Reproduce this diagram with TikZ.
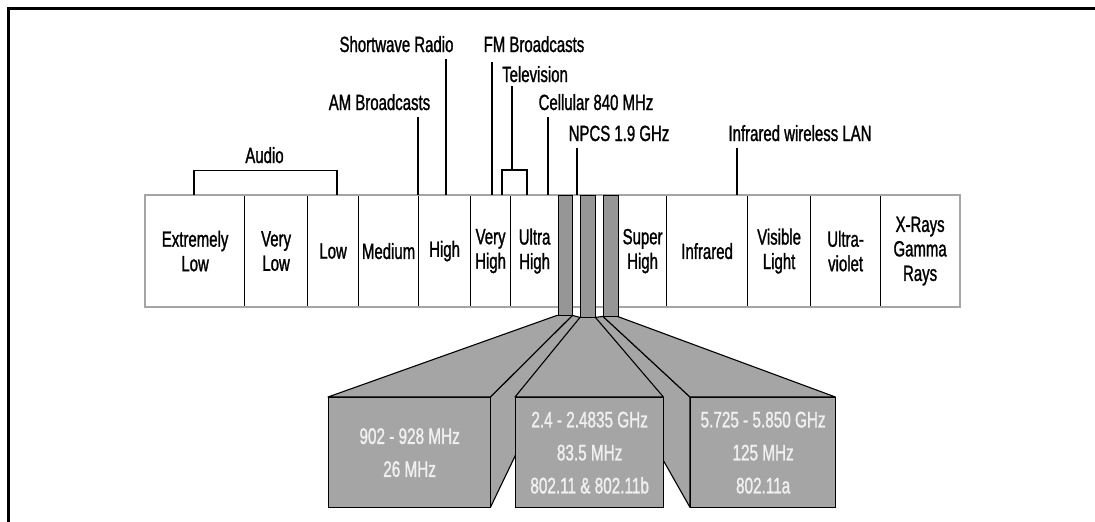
\documentclass[tikz,border=0pt]{standalone}
\usepackage{fontspec}
\setmainfont[FakeStretch=0.68,FakeBold=1.2]{Liberation Sans}
\definecolor{wedgegray}{RGB}{165,165,165}
\definecolor{bargray}{RGB}{150,150,150}
\definecolor{bordergray}{RGB}{165,165,165}
\definecolor{boxtext}{RGB}{240,240,240}
\newcommand{\dfont}{\fontsize{22}{24.5}\selectfont}
\newcommand{\bfontsz}{\fontsize{22.5}{33}\selectfont}
\begin{document}
\begin{tikzpicture}[x=1pt,y=-1pt,
  lbl/.style={font=\dfont, inner sep=0pt, anchor=base},
  lead/.style={line width=1.1pt, black},
  cellbox/.style={draw=black, line width=1.2pt, inner sep=0pt, minimum height=111pt,
    font=\dfont, align=center, anchor=north west},
  ghost/.style={inner sep=0pt, anchor=north west},
  slotbar/.style={draw=black, fill=bargray, line width=1.2pt, inner sep=0pt, anchor=north west},
  face/.style={draw=black, fill=wedgegray, line width=1.1pt, line join=round},
  frontbox/.style={draw=black, fill=wedgegray, line width=1.3pt, inner sep=0pt,
    minimum height=110pt, font=\bfontsz, text=boxtext, align=center, anchor=north west}]
\useasboundingbox (0,0) rectangle (1095,522);
% outer frame (open at right and bottom)
\draw[line width=3pt, black] (8,530) -- (8,8) -- (1105,8);

% spectrum cells
\node[cellbox, minimum width=99pt] (elf) at (145,195) {Extremely\\Low};
\node[cellbox, minimum width=63pt] (vlf) at (244,195) {Very\\Low};
\node[cellbox, minimum width=51pt] (lf) at (307,195) {Low};
\node[cellbox, minimum width=60pt] (mf) at (358,195) {Medium};
\node[cellbox, minimum width=52pt] (hf) at (418,195) {High};
\node[cellbox, minimum width=40pt] (vhf) at (470,195) {Very\\High};
\node[cellbox, minimum width=48pt] (uhf) at (510,195) {Ultra\\High};
\node[cellbox, minimum width=48pt] (shf) at (618,195) {Super\\High};
\node[cellbox, minimum width=81pt] (ir) at (666,195) {Infrared};
\node[cellbox, minimum width=63pt] (vis) at (747,195) {Visible\\Light};
\node[cellbox, minimum width=70pt] (uv) at (810,195) {Ultra-\\violet};
\node[cellbox, minimum width=79pt] (xr) at (880,195) {X-Rays\\Gamma\\Rays};
% grey outer border of the spectrum strip
\draw[bordergray, line width=2pt] (elf.north west) rectangle (xr.south east);

% geometry helpers (not drawn)
\coordinate (s1) at (542,400);
\coordinate (s3) at (629,400);
\node[ghost, minimum width=162pt, minimum height=110pt] (b1) at (328,397) {};
\node[ghost, minimum width=148pt, minimum height=110pt] (b2) at (515,397) {};
\node[ghost, minimum width=145pt, minimum height=110pt] (b3) at (690,397) {};
\node[ghost, minimum width=14pt, minimum height=120pt] (bar1) at (558,195) {};
\node[ghost, minimum width=15pt, minimum height=122pt] (bar2) at (580,195) {};
\node[ghost, minimum width=15pt, minimum height=121pt] (bar3) at (603,195) {};

% side faces
\draw[face] (b1.north east) -- (bar1.south east) -- (bar2.south west) -- (s1) -- (b1.south east) -- cycle;
\draw[face] (b3.north west) -- (bar3.south west) -- (bar2.south east) -- (s3) -- (b3.south west) -- cycle;
% box 2
\draw[face] (b2.north west) -- (bar2.south west) -- (bar2.south east) -- (b2.north east) -- cycle;
\node[frontbox, minimum width=148pt] (b2f) at (b2.north west) {2.4 - 2.4835 GHz\\83.5 MHz\\802.11 \& 802.11b};
% box 1
\draw[face] (b1.north west) -- ([xshift=-1pt]bar1.south west) -- (bar1.south east) -- (b1.north east) -- cycle;
\node[frontbox, minimum width=162pt] (b1f) at (b1.north west) {902 - 928 MHz\\26 MHz};
% box 3
\draw[face] (b3.north west) -- (bar3.south west) -- ([xshift=-1pt]bar3.south east) -- (b3.north east) -- cycle;
\node[frontbox, minimum width=145pt] (b3f) at (b3.north west) {5.725 - 5.850 GHz\\125 MHz\\802.11a};

% bars on top
\node[slotbar, minimum width=14pt, minimum height=120pt] (bar1f) at (bar1.north west) {};
\node[slotbar, minimum width=15pt, minimum height=122pt] (bar2f) at (bar2.north west) {};
\node[slotbar, minimum width=15pt, minimum height=121pt] (bar3f) at (bar3.north west) {};

% labels
\node[lbl] (sw) at (396.5,52) {Shortwave Radio};
\node[lbl] (fm) at (534,52) {FM Broadcasts};
\node[lbl] (tv) at (535,82) {Television};
\node[lbl] (am) at (379.5,110) {AM Broadcasts};
\node[lbl] (cel) at (596,110) {Cellular 840 MHz};
\node[lbl] (npcs) at (619,141) {NPCS 1.9 GHz};
\node[lbl] (irl) at (800,141) {Infrared wireless LAN};
\node[lbl] (aud) at (264.5,163) {Audio};

% leader end points on the strip
\coordinate (swp) at (446,195);
\coordinate (fmp) at (492,195);
\coordinate (amp) at (418,195);
\coordinate (celp) at (548,195);
\coordinate (npcsp) at (577,195);
\coordinate (irp) at (737,195);
\coordinate (tvp) at (512,170);
\coordinate (auda) at (194,195);
\coordinate (audb) at (337,195);
\coordinate (tva) at (502,195);
\coordinate (tvb) at (527,195);

\draw[lead] ([yshift=-7pt]sw.south -| swp) -- (swp);
\draw[lead] ([yshift=-10pt]fm.south -| fmp) -- (fmp);
\draw[lead] ([yshift=-7pt]am.south -| amp) -- (amp);
\draw[lead] ([yshift=-7pt]cel.south -| celp) -- (celp);
\draw[lead] ([yshift=-7pt]npcs.south -| npcsp) -- (npcsp);
\draw[lead] ([yshift=-7pt]irl.south -| irp) -- (irp);
\draw[lead] ([yshift=-4pt]tv.south -| tvp) -- (tvp);
\draw[lead] (tva) -- (tva |- tvp) -- (tvb |- tvp) -- (tvb);
\draw[lead] (auda) -- ([yshift=-7pt]auda |- aud.south) -- ([yshift=-7pt]audb |- aud.south) -- (audb);
\end{tikzpicture}
\end{document}
